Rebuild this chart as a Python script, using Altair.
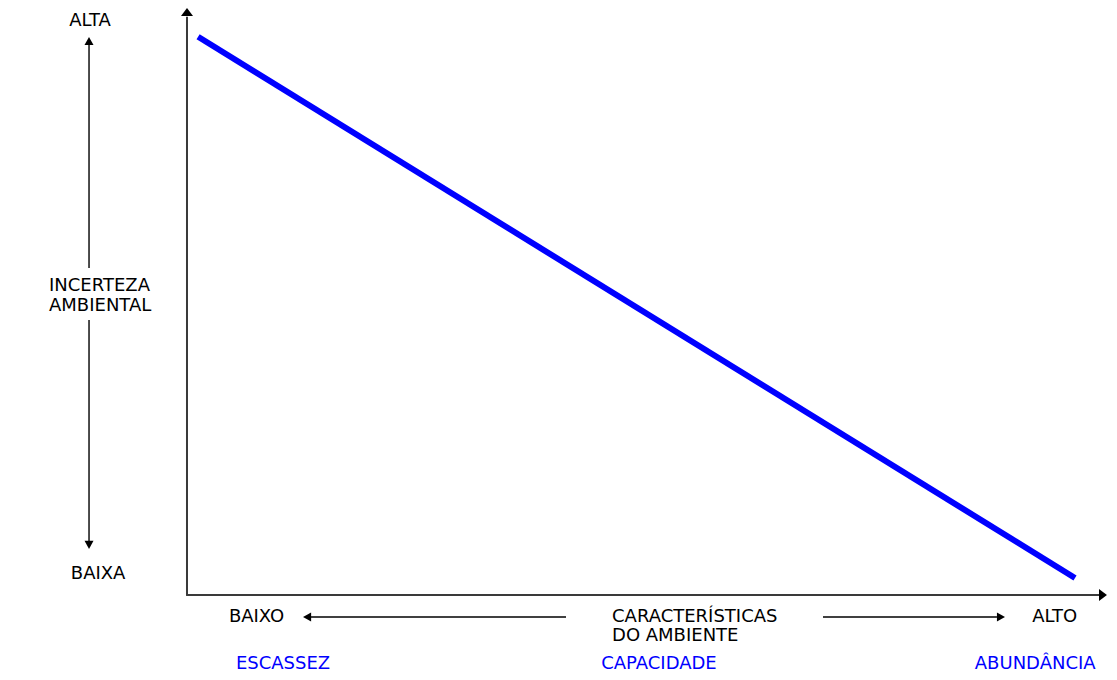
import altair as alt
import pandas as pd

# ---- data (conceptual units: capacity 0-100, uncertainty 0-100) ----
capacity = [1.2, 95.9]
uncertainty = [95.1, 2.9]

# axis / arrow segments
seg_x = [-0.1, 0.0, -10.58, -10.58, 13.28, 68.68]
seg_y = [0.0, 0.0, 93.9, 46.85, -3.75, -3.75]
seg_x2 = [98.5, 0.0, -10.58, -10.58, 40.93, 87.47]
seg_y2 = [0.0, 98.5, 55.71, 9.2, -3.75, -3.75]
seg_kind = ["axis", "axis", "arrow", "arrow", "arrow", "arrow"]

UP = "M0,0L1,1.33L-1,1.33Z"
RIGHT = "M0,0L-1.33,-1L-1.33,1Z"
UP_S = "M0,0L1,1.8L-1,1.8Z"
DOWN_S = "M0,0L1,-1.8L-1,-1.8Z"
LEFT_S = "M0,0L1.8,-1L1.8,1Z"
RIGHT_S = "M0,0L-1.8,-1L-1.8,1Z"

head_x = [0.0, 99.35, -10.58, -10.58, 12.53, 88.34]
head_y = [100.0, 0.0, 95.06, 7.84, -3.75, -3.75]
head_shape = [UP, RIGHT, UP_S, DOWN_S, LEFT_S, RIGHT_S]
head_kind = ["axis", "axis", "arrow", "arrow", "arrow", "arrow"]

# black labels (centered)
lab_text = ["ALTA", "BAIXA", "BAIXO", "ALTO"]
lab_x = [-10.47, -9.6, 7.51, 93.7]
lab_y = [97.79, 3.58, -3.75, -3.75]

# left-aligned labels
llab_text = ["INCERTEZA", "AMBIENTAL", "CARACTERÍSTICAS", "DO AMBIENTE"]
llab_x = [-14.9, -14.9, 45.9, 45.9]
llab_y = [52.64, 49.23, -3.75, -7.07]

# blue labels
blab_text = ["ESCASSEZ", "CAPACIDADE", "ABUNDÂNCIA"]
blab_x = [10.37, 50.97, 91.6]
blab_y = [-11.7, -11.7, -11.7]

FONT = "DejaVu Sans"
FS = 18

xs = alt.Scale(domain=[-19.33, 99.57], nice=False, zero=False)
ys = alt.Scale(domain=[-13.12, 100.0], nice=False, zero=False)

line_df = pd.DataFrame({"x": capacity, "y": uncertainty})
seg_df = pd.DataFrame({"x": seg_x, "y": seg_y, "x2": seg_x2, "y2": seg_y2, "kind": seg_kind})
head_df = pd.DataFrame({"x": head_x, "y": head_y, "shape": head_shape, "kind": head_kind})
lab_df = pd.DataFrame({"x": lab_x, "y": lab_y, "t": lab_text})
llab_df = pd.DataFrame({"x": llab_x, "y": llab_y, "t": llab_text})
blab_df = pd.DataFrame({"x": blab_x, "y": blab_y, "t": blab_text})

X = alt.X("x:Q", scale=xs, axis=None)
Y = alt.Y("y:Q", scale=ys, axis=None)

axes_rules = alt.Chart(seg_df).transform_filter("datum.kind == 'axis'").mark_rule(
    color="#3a3a3a", strokeWidth=2
).encode(x=X, y=Y, x2="x2:Q", y2="y2:Q")

arrow_rules = alt.Chart(seg_df).transform_filter("datum.kind == 'arrow'").mark_rule(
    color="#000000", strokeWidth=1.4
).encode(x=X, y=Y, x2="x2:Q", y2="y2:Q")

axes_heads = alt.Chart(head_df).transform_filter("datum.kind == 'axis'").mark_point(
    filled=True, color="#000000", opacity=1, size=144, strokeWidth=0
).encode(x=X, y=Y, shape=alt.Shape("shape:N", scale=None))

arrow_heads = alt.Chart(head_df).transform_filter("datum.kind == 'arrow'").mark_point(
    filled=True, color="#000000", opacity=1, size=81, strokeWidth=0
).encode(x=X, y=Y, shape=alt.Shape("shape:N", scale=None))

blue_line = alt.Chart(line_df).mark_line(color="#0000ff", strokeWidth=6, strokeCap="butt").encode(
    x=X, y=Y
)

labels = alt.Chart(lab_df).mark_text(
    font=FONT, fontSize=FS, color="#000000", align="center", baseline="middle"
).encode(x=X, y=Y, text="t:N")

llabels = alt.Chart(llab_df).mark_text(
    font=FONT, fontSize=FS, color="#000000", align="left", baseline="middle"
).encode(x=X, y=Y, text="t:N")

blabels = alt.Chart(blab_df).mark_text(
    font=FONT, fontSize=FS, color="#0000ff", align="center", baseline="middle"
).encode(x=X, y=Y, text="t:N")

chart = alt.layer(
    axes_rules, arrow_rules, axes_heads, arrow_heads, blue_line, labels, llabels, blabels
).properties(
    width=1101, height=664, autosize=alt.AutoSizeParams(type="none"), padding=0,
    background="white"
).configure_view(strokeWidth=0, stroke="transparent")

chart.save("out.html", embed_options={"renderer": "svg", "actions": False})
